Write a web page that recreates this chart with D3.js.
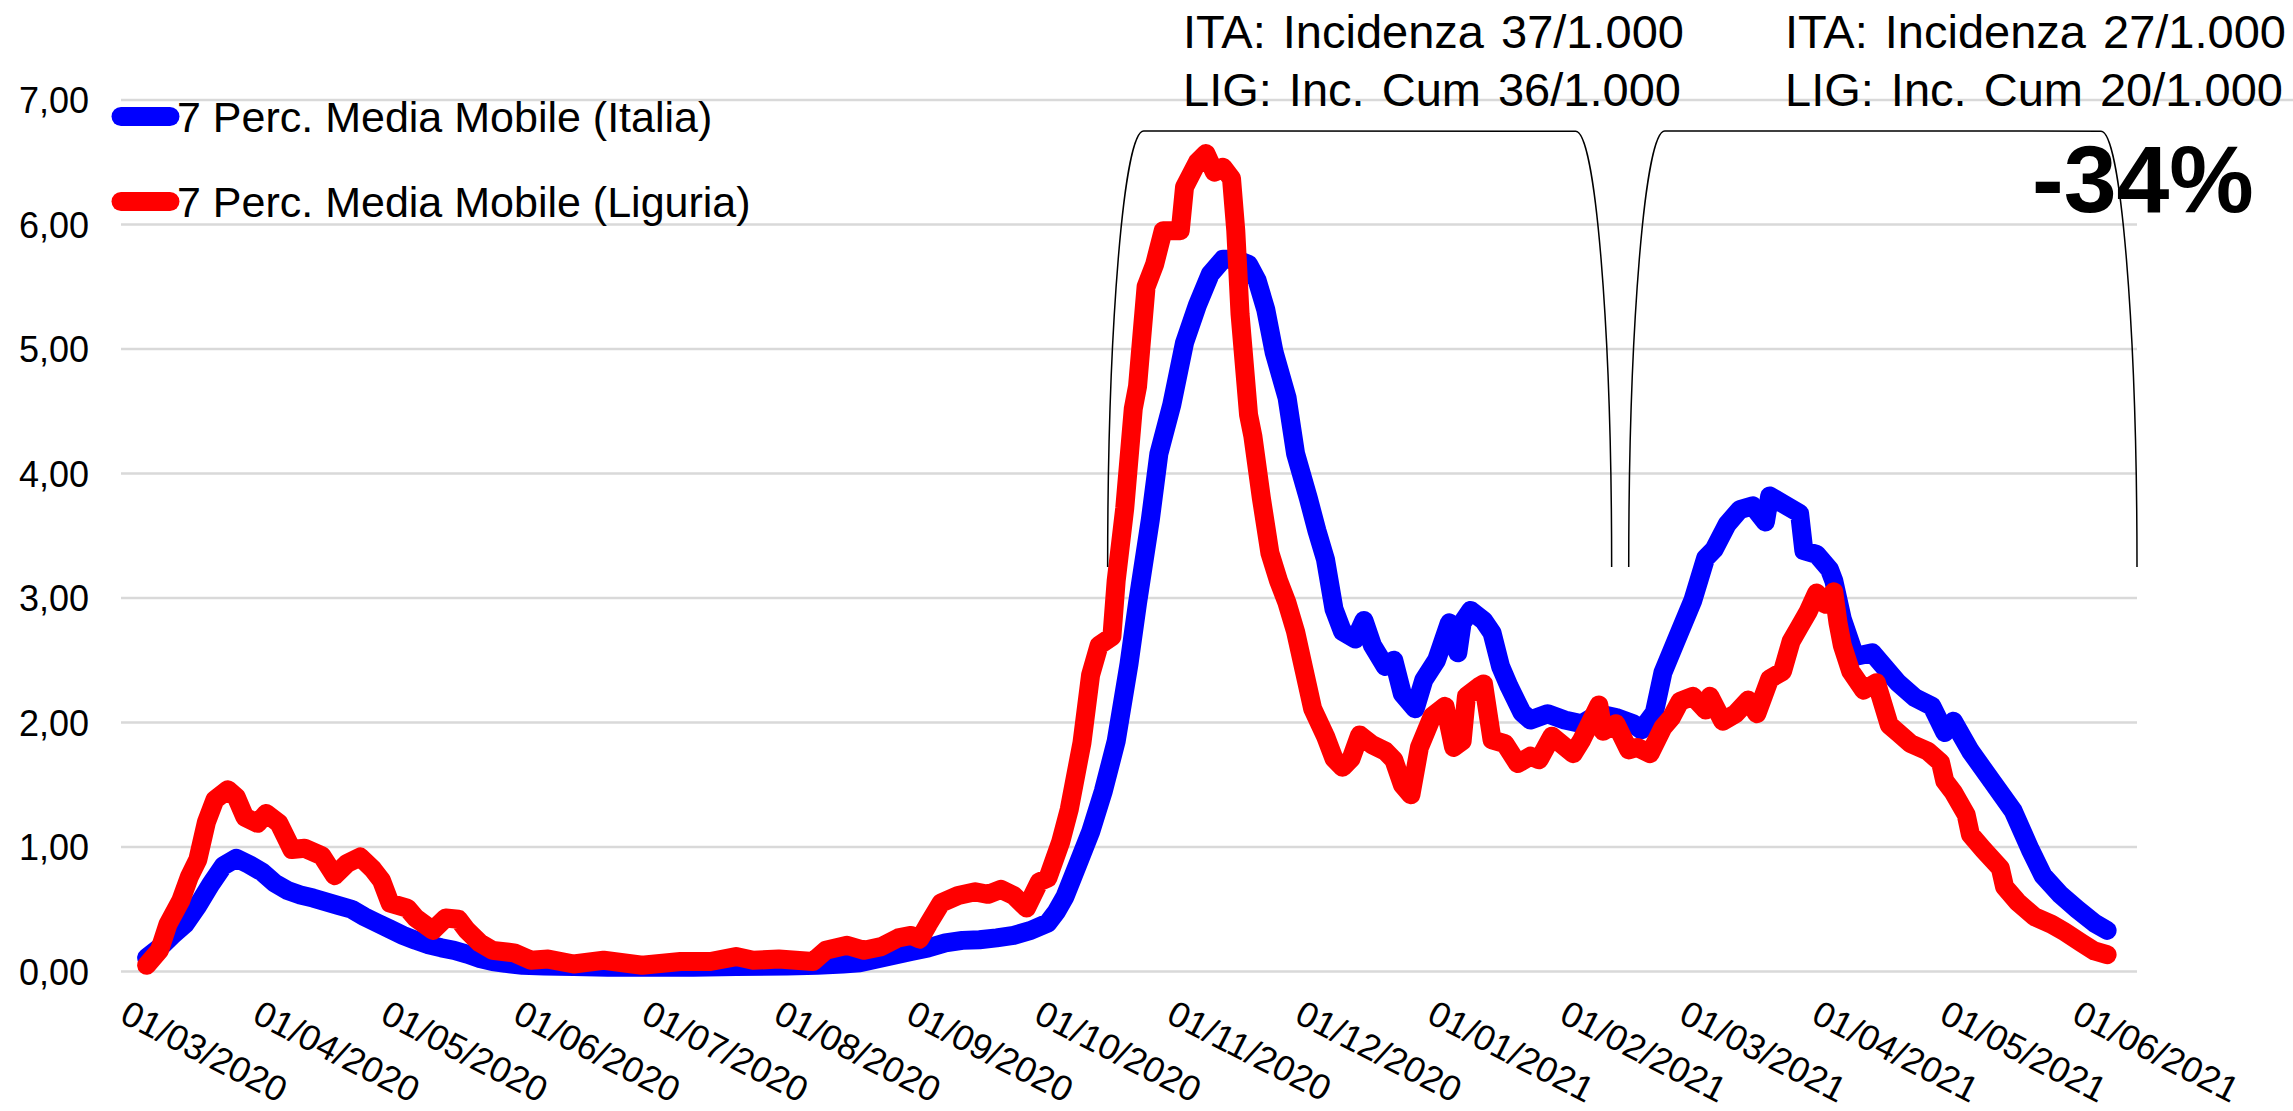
<!DOCTYPE html>
<html>
<head>
<meta charset="utf-8">
<script src="https://cdn.jsdelivr.net/npm/d3@7/dist/d3.min.js"></script>
<style>
	body { margin: 0; background: #ffffff; }
	svg { display: block; }
	text { font-family: "Liberation Sans", Arial, sans-serif; fill: #000000; }
</style>
</head>
<body>
<script>

// 7-day moving average, cases per 10.000 inhabitants
var italiaDates = [
	"04/03/2020","07/03/2020","10/03/2020","13/03/2020","16/03/2020","19/03/2020","22/03/2020","25/03/2020",
	"28/03/2020","31/03/2020","03/04/2020","06/04/2020","09/04/2020","12/04/2020","15/04/2020","18/04/2020",
	"21/04/2020","24/04/2020","27/04/2020","30/04/2020","03/05/2020","06/05/2020","09/05/2020","12/05/2020",
	"15/05/2020","18/05/2020","21/05/2020","24/05/2020","27/05/2020","31/05/2020","05/06/2020","12/06/2020",
	"20/06/2020","01/07/2020","10/07/2020","20/07/2020","01/08/2020","08/08/2020","14/08/2020","18/08/2020",
	"22/08/2020","26/08/2020","30/08/2020","03/09/2020","07/09/2020","11/09/2020","15/09/2020","19/09/2020",
	"23/09/2020","27/09/2020","01/10/2020","03/10/2020","05/10/2020","08/10/2020","11/10/2020","14/10/2020",
	"17/10/2020","20/10/2020","22/10/2020","25/10/2020","27/10/2020","30/10/2020","02/11/2020","05/11/2020",
	"08/11/2020","11/11/2020","14/11/2020","17/11/2020","19/11/2020","21/11/2020","23/11/2020","26/11/2020",
	"28/11/2020","01/12/2020","03/12/2020","05/12/2020","07/12/2020","09/12/2020","12/12/2020","14/12/2020",
	"16/12/2020","19/12/2020","21/12/2020","23/12/2020","26/12/2020","28/12/2020","31/12/2020","03/01/2021",
	"05/01/2021","06/01/2021","08/01/2021","11/01/2021","13/01/2021","15/01/2021","17/01/2021","20/01/2021",
	"22/01/2021","26/01/2021","30/01/2021","03/02/2021","07/02/2021","11/02/2021","15/02/2021","17/02/2021",
	"20/02/2021","22/02/2021","25/02/2021","01/03/2021","04/03/2021","06/03/2021","09/03/2021","12/03/2021",
	"15/03/2021","18/03/2021","19/03/2021","22/03/2021","26/03/2021","27/03/2021","30/03/2021","02/04/2021",
	"03/04/2021","05/04/2021","08/04/2021","12/04/2021","15/04/2021","18/04/2021","22/04/2021","26/04/2021",
	"29/04/2021","01/05/2021","05/05/2021","10/05/2021","15/05/2021","19/05/2021","22/05/2021","26/05/2021",
	"30/05/2021","03/06/2021","06/06/2021"
];
var italiaValues = [
	0.11, 0.19, 0.29, 0.38, 0.53, 0.70, 0.85, 0.91,
	0.86, 0.80, 0.71, 0.65, 0.615, 0.59, 0.56, 0.53,
	0.50, 0.44, 0.39, 0.34, 0.29, 0.25, 0.215, 0.19,
	0.17, 0.14, 0.105, 0.08, 0.065, 0.05, 0.045, 0.04,
	0.035, 0.035, 0.035, 0.04, 0.045, 0.05, 0.06, 0.07,
	0.10, 0.13, 0.16, 0.19, 0.23, 0.25, 0.255, 0.27,
	0.29, 0.33, 0.39, 0.48, 0.60, 0.86, 1.12, 1.45,
	1.85, 2.47, 2.96, 3.63, 4.16, 4.55, 5.05, 5.35,
	5.60, 5.72, 5.72, 5.68, 5.55, 5.32, 4.97, 4.61,
	4.16, 3.80, 3.54, 3.31, 2.91, 2.73, 2.67, 2.82,
	2.62, 2.45, 2.50, 2.23, 2.11, 2.34, 2.50, 2.80,
	2.56, 2.80, 2.90, 2.82, 2.72, 2.45, 2.29, 2.08,
	2.02, 2.07, 2.02, 1.99, 2.07, 2.04, 1.99, 1.94,
	2.08, 2.40, 2.65, 2.98, 3.32, 3.39, 3.59, 3.71,
	3.74, 3.61, 3.82, 3.76, 3.68, 3.38, 3.35, 3.23,
	3.14, 2.83, 2.53, 2.56, 2.44, 2.32, 2.20, 2.13,
	1.92, 2.01, 1.77, 1.53, 1.29, 0.98, 0.77, 0.62,
	0.50, 0.39, 0.33
];

var liguriaDates = [
	"04/03/2020","07/03/2020","09/03/2020","12/03/2020","14/03/2020","16/03/2020","18/03/2020","20/03/2020",
	"23/03/2020","25/03/2020","27/03/2020","30/03/2020","01/04/2020","04/04/2020","07/04/2020","10/04/2020",
	"14/04/2020","17/04/2020","20/04/2020","23/04/2020","26/04/2020","28/04/2020","30/04/2020","04/05/2020",
	"06/05/2020","10/05/2020","13/05/2020","16/05/2020","18/05/2020","21/05/2020","24/05/2020","29/05/2020",
	"02/06/2020","06/06/2020","12/06/2020","19/06/2020","28/06/2020","07/07/2020","14/07/2020","20/07/2020",
	"24/07/2020","30/07/2020","07/08/2020","10/08/2020","15/08/2020","19/08/2020","23/08/2020","27/08/2020",
	"30/08/2020","01/09/2020","03/09/2020","06/09/2020","10/09/2020","14/09/2020","17/09/2020","20/09/2020",
	"23/09/2020","26/09/2020","29/09/2020","01/10/2020","04/10/2020","06/10/2020","09/10/2020","11/10/2020",
	"13/10/2020","16/10/2020","17/10/2020","19/10/2020","21/10/2020","22/10/2020","24/10/2020","26/10/2020",
	"28/10/2020","01/11/2020","02/11/2020","05/11/2020","07/11/2020","09/11/2020","11/11/2020","13/11/2020",
	"14/11/2020","15/11/2020","17/11/2020","18/11/2020","20/11/2020","22/11/2020","24/11/2020","26/11/2020",
	"28/11/2020","30/11/2020","02/12/2020","05/12/2020","07/12/2020","09/12/2020","11/12/2020","13/12/2020",
	"16/12/2020","19/12/2020","21/12/2020","23/12/2020","25/12/2020","27/12/2020","30/12/2020","02/01/2021",
	"04/01/2021","06/01/2021","07/01/2021","10/01/2021","11/01/2021","13/01/2021","16/01/2021","19/01/2021",
	"22/01/2021","24/01/2021","27/01/2021","01/02/2021","03/02/2021","07/02/2021","08/02/2021","11/02/2021",
	"14/02/2021","16/02/2021","19/02/2021","22/02/2021","24/02/2021","26/02/2021","01/03/2021","04/03/2021",
	"05/03/2021","08/03/2021","11/03/2021","14/03/2021","16/03/2021","19/03/2021","22/03/2021","24/03/2021",
	"26/03/2021","28/03/2021","30/03/2021","01/04/2021","03/04/2021","04/04/2021","05/04/2021","07/04/2021",
	"10/04/2021","13/04/2021","16/04/2021","18/04/2021","21/04/2021","25/04/2021","28/04/2021","29/04/2021",
	"01/05/2021","04/05/2021","05/05/2021","08/05/2021","12/05/2021","13/05/2021","16/05/2021","20/05/2021",
	"24/05/2021","27/05/2021","31/05/2021","03/06/2021","06/06/2021"
];
var liguriaValues = [
	0.05, 0.17, 0.38, 0.57, 0.76, 0.90, 1.20, 1.38,
	1.46, 1.40, 1.24, 1.19, 1.27, 1.19, 0.98, 0.99,
	0.93, 0.77, 0.87, 0.92, 0.82, 0.73, 0.55, 0.51,
	0.43, 0.33, 0.43, 0.42, 0.33, 0.23, 0.17, 0.15,
	0.09, 0.10, 0.06, 0.09, 0.05, 0.08, 0.08, 0.12,
	0.09, 0.10, 0.08, 0.17, 0.21, 0.17, 0.20, 0.27,
	0.29, 0.26, 0.38, 0.55, 0.61, 0.64, 0.62, 0.66,
	0.61, 0.51, 0.72, 0.75, 1.04, 1.30, 1.84, 2.38,
	2.62, 2.69, 3.14, 3.72, 4.52, 4.70, 5.50, 5.68,
	5.95, 5.95, 6.30, 6.50, 6.57, 6.42, 6.46, 6.37,
	5.95, 5.28, 4.47, 4.30, 3.80, 3.36, 3.14, 2.96,
	2.73, 2.42, 2.11, 1.89, 1.71, 1.64, 1.71, 1.90,
	1.82, 1.77, 1.70, 1.50, 1.42, 1.80, 2.05, 2.13,
	1.80, 1.85, 2.21, 2.29, 2.31, 1.86, 1.83, 1.67,
	1.73, 1.70, 1.89, 1.75, 1.86, 2.14, 1.93, 1.99,
	1.78, 1.80, 1.75, 1.96, 2.04, 2.17, 2.21, 2.10,
	2.21, 2.01, 2.07, 2.18, 2.07, 2.35, 2.41, 2.65,
	2.77, 2.89, 3.04, 2.95, 3.05, 2.80, 2.62, 2.41,
	2.26, 2.32, 1.98, 1.92, 1.83, 1.77, 1.68, 1.53,
	1.44, 1.26, 1.10, 0.98, 0.83, 0.68, 0.56, 0.44,
	0.38, 0.32, 0.23, 0.165, 0.135
];

var seriesNames = ["7 Perc. Media Mobile (Italia)", "7 Perc. Media Mobile (Liguria)"];
var seriesColors = ["#0000ff", "#ff0000"];

var yTicks = [0, 1, 2, 3, 4, 5, 6, 7];
var xTickLabels = [
	"01/03/2020","01/04/2020","01/05/2020","01/06/2020","01/07/2020","01/08/2020","01/09/2020","01/10/2020",
	"01/11/2020","01/12/2020","01/01/2021","01/02/2021","01/03/2021","01/04/2021","01/05/2021","01/06/2021"
];

// periods marked by the brackets and their notes
var periodStart = ["15/10/2020", "14/02/2021"];
var periodEnd = ["10/02/2021", "13/06/2021"];
var periodNoteIta = ["ITA: Incidenza 37/1.000", "ITA: Incidenza 27/1.000"];
var periodNoteLig = ["LIG: Inc. Cum 36/1.000", "LIG: Inc. Cum 20/1.000"];
var changeLabel = "-34%";

var width = 2293,
	height = 1111,
	plotLeft = 121,
	plotRight = 2137,
	plotTop = 100,
	plotBottom = 971.5,
	lineWidth = 19
;

var parseDate = d3.timeParse("%d/%m/%Y");
var formDate = d3.timeFormat("%d/%m/%Y");
var itFormat = d3.formatLocale({decimal: ",", thousands: ".", grouping: [3], currency: ["€", ""]}).format(".2f");

var italia = italiaDates.map(function(d, i) { return {date: parseDate(d), value: italiaValues[i]}; });
var liguria = liguriaDates.map(function(d, i) { return {date: parseDate(d), value: liguriaValues[i]}; });

var xScale = d3.scaleTime()
	.domain([parseDate("27/02/2020"), parseDate("13/06/2021")])
	.range([plotLeft, plotRight]);

var yScale = d3.scaleLinear()
	.domain([0, 7])
	.range([plotBottom, plotTop]);

var svg = d3.select("body")
	.append("svg")
	.attr("width", width)
	.attr("height", height)
	.style("background", "#ffffff");

// gridlines (the top one runs to the right edge)
svg.append("g")
	.selectAll("line")
	.data(yTicks)
	.enter()
	.append("line")
	.attr("x1", plotLeft)
	.attr("x2", function(d) { return d === 7 ? width : plotRight; })
	.attr("y1", function(d) { return yScale(d); })
	.attr("y2", function(d) { return yScale(d); })
	.attr("stroke", "#d9d9d9")
	.attr("stroke-width", 2.5)
;

// y axis labels
var yAxis = svg.append("g")
	.attr("transform", "translate(" + plotLeft + ",0)")
	.call(d3.axisLeft(yScale)
		.tickValues(yTicks)
		.tickFormat(itFormat)
		.tickSize(0)
		.tickPadding(32));
yAxis.select(".domain").remove();
yAxis.selectAll("text")
	.attr("dy", "0.36em")
	.style("font-family", "'Liberation Sans', Arial, sans-serif")
	.style("font-size", "36px")
	.style("fill", "#000000")
;

// x axis labels, slanted
var xAxis = svg.append("g")
	.attr("transform", "translate(0," + plotBottom + ")")
	.call(d3.axisBottom(xScale)
		.tickValues(xTickLabels.map(parseDate))
		.tickFormat(formDate)
		.tickSize(0));
xAxis.select(".domain").remove();
xAxis.selectAll("text")
	.attr("x", 0)
	.attr("y", 0)
	.attr("dy", null)
	.attr("text-anchor", "start")
	.attr("transform", "translate(-16,50) rotate(27)")
	.style("font-family", "'Liberation Sans', Arial, sans-serif")
	.style("font-size", "36px")
	.style("fill", "#000000")
;

var line = d3.line()
	.x(function(d) { return xScale(d.date); })
	.y(function(d) { return yScale(d.value); });

[italia, liguria].forEach(function(series, i) {
	svg.append("path")
		.datum(series)
		.attr("d", line)
		.attr("fill", "none")
		.attr("stroke", seriesColors[i])
		.attr("stroke-width", lineWidth)
		.attr("stroke-linejoin", "round")
		.attr("stroke-linecap", "round")
	;
});

// brackets over the two periods
var bracketTop = yScale(6.75),
	bracketBottom = yScale(3.25),
	bracketRound = 36
;
periodStart.forEach(function(d, i) {
	var x1 = xScale(parseDate(d)),
		x2 = xScale(parseDate(periodEnd[i]));
	var path = d3.path();
	path.moveTo(x1, bracketBottom);
	path.bezierCurveTo(x1, bracketBottom - (bracketBottom - bracketTop) * 0.55, x1 + bracketRound * 0.45, bracketTop, x1 + bracketRound, bracketTop);
	path.lineTo(x2 - bracketRound, bracketTop);
	path.bezierCurveTo(x2 - bracketRound * 0.45, bracketTop, x2, bracketBottom - (bracketBottom - bracketTop) * 0.55, x2, bracketBottom);
	svg.append("path")
		.attr("d", path.toString())
		.attr("fill", "none")
		.attr("stroke", "#000000")
		.attr("stroke-width", 1.5)
	;
});

// notes above the brackets
var noteX = [1183, 1785];
noteX.forEach(function(x, i) {
	svg.append("text")
		.attr("x", x)
		.attr("y", 48)
		.style("font-size", "47px")
		.style("word-spacing", "4px")
		.text(periodNoteIta[i]);
	svg.append("text")
		.attr("x", x)
		.attr("y", 106)
		.style("font-size", "47px")
		.style("word-spacing", "4px")
		.text(periodNoteLig[i]);
});

svg.append("text")
	.attr("x", 2032)
	.attr("y", 212)
	.style("font-size", "95px")
	.style("font-weight", "bold")
	.text(changeLabel)
;

// legend
seriesNames.forEach(function(name, i) {
	var ly = 116.5 + i * 85;
	svg.append("line")
		.attr("x1", 121)
		.attr("x2", 170)
		.attr("y1", ly)
		.attr("y2", ly)
		.attr("stroke", seriesColors[i])
		.attr("stroke-width", lineWidth)
		.attr("stroke-linecap", "round")
	;
	svg.append("text")
		.attr("x", 177)
		.attr("y", ly + 15)
		.style("font-size", "43px")
		.text(name)
	;
});

</script>
</body>
</html>
